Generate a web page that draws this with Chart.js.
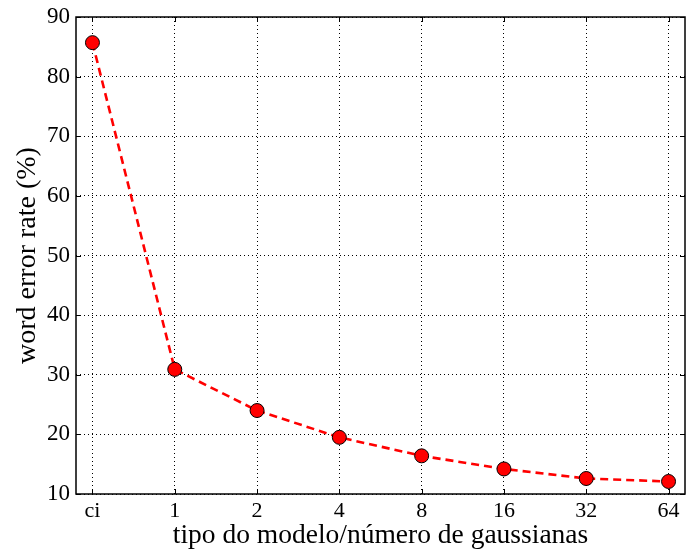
<!DOCTYPE html>
<html>
<head>
<meta charset="utf-8">
<script src="https://cdn.jsdelivr.net/npm/chart.js@4.4.1/dist/chart.umd.min.js"></script>
<style>
  html, body { margin: 0; padding: 0; background: #fff; }
  #wrap { width: 686px; height: 550px; }
</style>
</head>
<body>
<div id="wrap"><canvas id="werChart" width="686" height="550"></canvas></div>
<script>
const categories = ["ci", "1", "2", "4", "8", "16", "32", "64"];
const werValues = [85.7, 30.9, 24.0, 19.5, 16.4, 14.2, 12.6, 12.1];
const yTicks = [10, 20, 30, 40, 50, 60, 70, 80, 90];

const FONT = "'Liberation Serif', 'DejaVu Serif', serif";

// frame around the plot area plus inward tick marks (matplotlib style)
const framePlugin = {
  id: "frame",
  afterDraw(chart) {
    const { ctx, chartArea: a, scales } = chart;
    ctx.save();
    ctx.strokeStyle = "#000";
    ctx.lineWidth = 1;
    ctx.setLineDash([]);
    categories.forEach((c, i) => {
      const x = Math.round(scales.x.getPixelForValue(i)) + 0.5;
      ctx.beginPath();
      ctx.moveTo(x, a.bottom); ctx.lineTo(x, a.bottom - 5);
      ctx.moveTo(x, a.top); ctx.lineTo(x, a.top + 5);
      ctx.stroke();
    });
    yTicks.forEach((v) => {
      const y = Math.round(scales.y.getPixelForValue(v)) + 0.5;
      ctx.beginPath();
      ctx.moveTo(a.left, y); ctx.lineTo(a.left + 5, y);
      ctx.moveTo(a.right, y); ctx.lineTo(a.right - 5, y);
      ctx.stroke();
    });
    ctx.lineWidth = 1.5;
    ctx.strokeRect(a.left, a.top, a.right - a.left, a.bottom - a.top);
    ctx.restore();
  },
};

const ctx = document.getElementById("werChart").getContext("2d");
new Chart(ctx, {
  type: "line",
  data: {
    datasets: [
      {
        data: werValues.map((v, i) => ({ x: i, y: v })),
        borderColor: "#ff0000",
        borderWidth: 2.6,
        borderDash: [8, 5],
        tension: 0,
        pointRadius: 7,
        pointBackgroundColor: "#ff0000",
        pointBorderColor: "#000",
        pointBorderWidth: 1,
        fill: false,
        clip: false,
      },
    ],
  },
  plugins: [framePlugin],
  options: {
    responsive: false,
    animation: false,
    layout: { autoPadding: false, padding: { top: 17, right: 1, left: 0, bottom: 0 } },
    plugins: { legend: { display: false }, tooltip: { enabled: false } },
    scales: {
      x: {
        type: "linear",
        min: -0.2,
        max: 7.2,
        afterBuildTicks: (axis) => {
          axis.ticks = categories.map((c, i) => ({ value: i }));
        },
        afterFit: (axis) => {
          axis.height = 56;
          axis.paddingLeft = 0;
          axis.paddingRight = 0;
        },
        ticks: {
          callback: (v) => categories[v],
          color: "#000",
          font: { family: FONT, size: 22 },
          padding: 4,
          maxRotation: 0,
        },
        grid: {
          color: "#000",
          lineWidth: 1,
          drawTicks: false,
        },
        border: { display: false, dash: [1, 3] },
        title: {
          display: true,
          text: "tipo do modelo/número de gaussianas",
          color: "#000",
          font: { family: FONT, size: 27.5, lineHeight: 1.0 },
          padding: { top: 0, bottom: 0 },
        },
      },
      y: {
        min: 10,
        max: 90,
        afterBuildTicks: (axis) => {
          axis.ticks = yTicks.map((v) => ({ value: v }));
        },
        afterFit: (axis) => {
          axis.width = 76;
          axis.paddingTop = 0;
          axis.paddingBottom = 0;
        },
        ticks: {
          color: "#000",
          font: { family: FONT, size: 23 },
          padding: 6,
        },
        grid: {
          color: "#000",
          lineWidth: 1,
          drawTicks: false,
        },
        border: { display: false, dash: [1, 3] },
        title: {
          display: true,
          text: "word error rate (%)",
          color: "#000",
          font: { family: FONT, size: 28, lineHeight: 1.0 },
          padding: { top: 14, bottom: 0 },
        },
      },
    },
  },
});
</script>
</body>
</html>
